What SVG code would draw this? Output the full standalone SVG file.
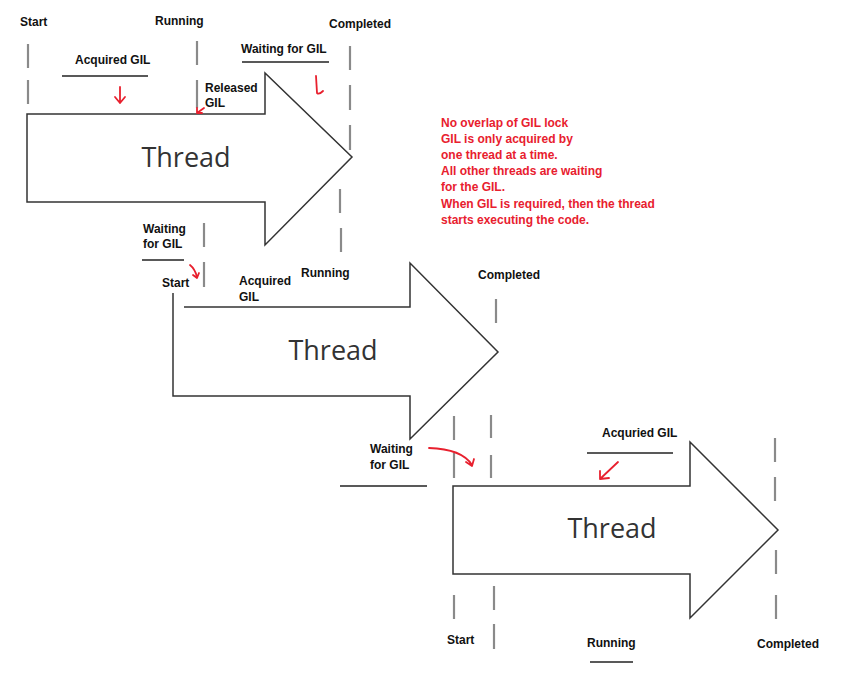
<svg xmlns="http://www.w3.org/2000/svg" width="867" height="676" viewBox="0 0 867 676">
<style>
.bg{fill:#fff}
.arrow{fill:#fff;stroke:#333;stroke-width:1.5}
.edge{fill:none;stroke:#333;stroke-width:1.5}
.dash{stroke:#8a8a8a;stroke-width:2.2}
.ul{stroke:#222;stroke-width:1.3}
.lbl{font-family:"Liberation Sans",Arial,sans-serif;font-size:12px;font-weight:bold;fill:#111}
.thr{font-family:"Open Sans","Noto Sans",sans-serif;font-size:27px;fill:#333;text-anchor:middle}
.note{font-family:"Liberation Sans",Arial,sans-serif;font-size:12px;font-weight:bold;fill:#e8202e}
.red{fill:none;stroke:#e8202e;stroke-width:1.8;stroke-linecap:round;stroke-linejoin:round}
</style>
<rect class="bg" width="867" height="676"/>

<g id="thread1">
<polygon class="arrow" points="27,114 265,114 265,73 352,157 265,245 265,202 27,202"/>
<text class="thr" x="186" y="167">Thread</text>
</g>

<g id="thread2">
<polygon points="173,307 410,307 410,263 498,352 410,439 410,396 173,396" fill="#fff"/>
<path class="edge" d="M184,307 L410,307 L410,263 L498,352 L410,439 L410,396 L173,396 L173,293"/>
<text class="thr" x="333" y="360">Thread</text>
</g>

<g id="thread3">
<polygon class="arrow" points="453,486 690,486 690,442 778,530 690,618 690,574 453,574"/>
<text class="thr" x="612" y="538">Thread</text>
</g>

<g id="timelines">
<line class="dash" x1="28" y1="44" x2="28" y2="68"/>
<line class="dash" x1="28" y1="80" x2="28" y2="104"/>
<line class="dash" x1="197" y1="41" x2="197" y2="65"/>
<line class="dash" x1="197" y1="80" x2="197" y2="108"/>
<line class="dash" x1="350" y1="46" x2="350" y2="70"/>
<line class="dash" x1="350" y1="85" x2="350" y2="110"/>
<line class="dash" x1="350" y1="125" x2="350" y2="150"/>
<line class="dash" x1="340" y1="189" x2="340" y2="213"/>
<line class="dash" x1="341" y1="228" x2="341" y2="252"/>
<line class="dash" x1="204" y1="223" x2="204" y2="247"/>
<line class="dash" x1="204" y1="262" x2="204" y2="287"/>
<line class="dash" x1="496" y1="299" x2="496" y2="323"/>
<line class="dash" x1="454" y1="416" x2="454" y2="440"/>
<line class="dash" x1="454" y1="453" x2="454" y2="478"/>
<line class="dash" x1="491" y1="415" x2="491" y2="438"/>
<line class="dash" x1="491" y1="455" x2="491" y2="478"/>
<line class="dash" x1="454" y1="595" x2="454" y2="619"/>
<line class="dash" x1="494" y1="586" x2="494" y2="610"/>
<line class="dash" x1="494" y1="624" x2="494" y2="649"/>
<line class="dash" x1="775" y1="438" x2="775" y2="462"/>
<line class="dash" x1="775" y1="477" x2="775" y2="501"/>
<line class="dash" x1="776" y1="550" x2="776" y2="574"/>
<line class="dash" x1="776" y1="595" x2="776" y2="619"/>
</g>

<g id="underlines">
<line class="ul" x1="62" y1="76" x2="148" y2="76"/>
<line class="ul" x1="242" y1="62" x2="329" y2="62"/>
<line class="ul" x1="142" y1="260" x2="184" y2="260"/>
<line class="ul" x1="340" y1="486" x2="427" y2="486"/>
<line class="ul" x1="587" y1="453" x2="673" y2="453"/>
<line class="ul" x1="590" y1="662" x2="633" y2="662"/>
</g>

<g id="connectors">
<path class="red" d="M120,87 L120,103 M115,97 L120,103 L125,97"/>
<path class="red" d="M204,108 L197,113 M197,108 L197,113 L202,113"/>
<path class="red" d="M316,76 L317,93 Q319,95 323,91"/>
<path class="red" d="M190,265 Q195,269 197,277 M193,275 L197,278 L199,273"/>
<path class="red" d="M429,448 Q462,449 472,465 M466,462 L472,466 L474,459"/>
<path class="red" d="M618,462 L600,479 M600,471 L600,479 L609,478"/>
</g>

<g id="labels">
<text class="lbl" x="20" y="26">Start</text>
<text class="lbl" x="155" y="25">Running</text>
<text class="lbl" x="329" y="28">Completed</text>
<text class="lbl" x="241" y="53">Waiting for GIL</text>
<text class="lbl" x="75" y="64">Acquired GIL</text>
<text class="lbl" x="205" y="92">Released</text>
<text class="lbl" x="205" y="107">GIL</text>
<text class="lbl" x="143" y="233">Waiting</text>
<text class="lbl" x="143" y="248">for GIL</text>
<text class="lbl" x="162" y="287">Start</text>
<text class="lbl" x="239" y="285">Acquired</text>
<text class="lbl" x="239" y="301">GIL</text>
<text class="lbl" x="301" y="277">Running</text>
<text class="lbl" x="478" y="279">Completed</text>
<text class="lbl" x="370" y="453">Waiting</text>
<text class="lbl" x="370" y="469">for GIL</text>
<text class="lbl" x="602" y="437">Acquried GIL</text>
<text class="lbl" x="447" y="644">Start</text>
<text class="lbl" x="587" y="647">Running</text>
<text class="lbl" x="757" y="648">Completed</text>
</g>

<g id="note">
<text class="note" x="441" y="127">No overlap of GIL lock</text>
<text class="note" x="441" y="143">GIL is only acquired by</text>
<text class="note" x="441" y="159">one thread at a time.</text>
<text class="note" x="441" y="175">All other threads are waiting</text>
<text class="note" x="441" y="191">for the GIL.</text>
<text class="note" x="441" y="208">When GIL is required, then the thread</text>
<text class="note" x="441" y="224">starts executing the code.</text>
</g>
</svg>
